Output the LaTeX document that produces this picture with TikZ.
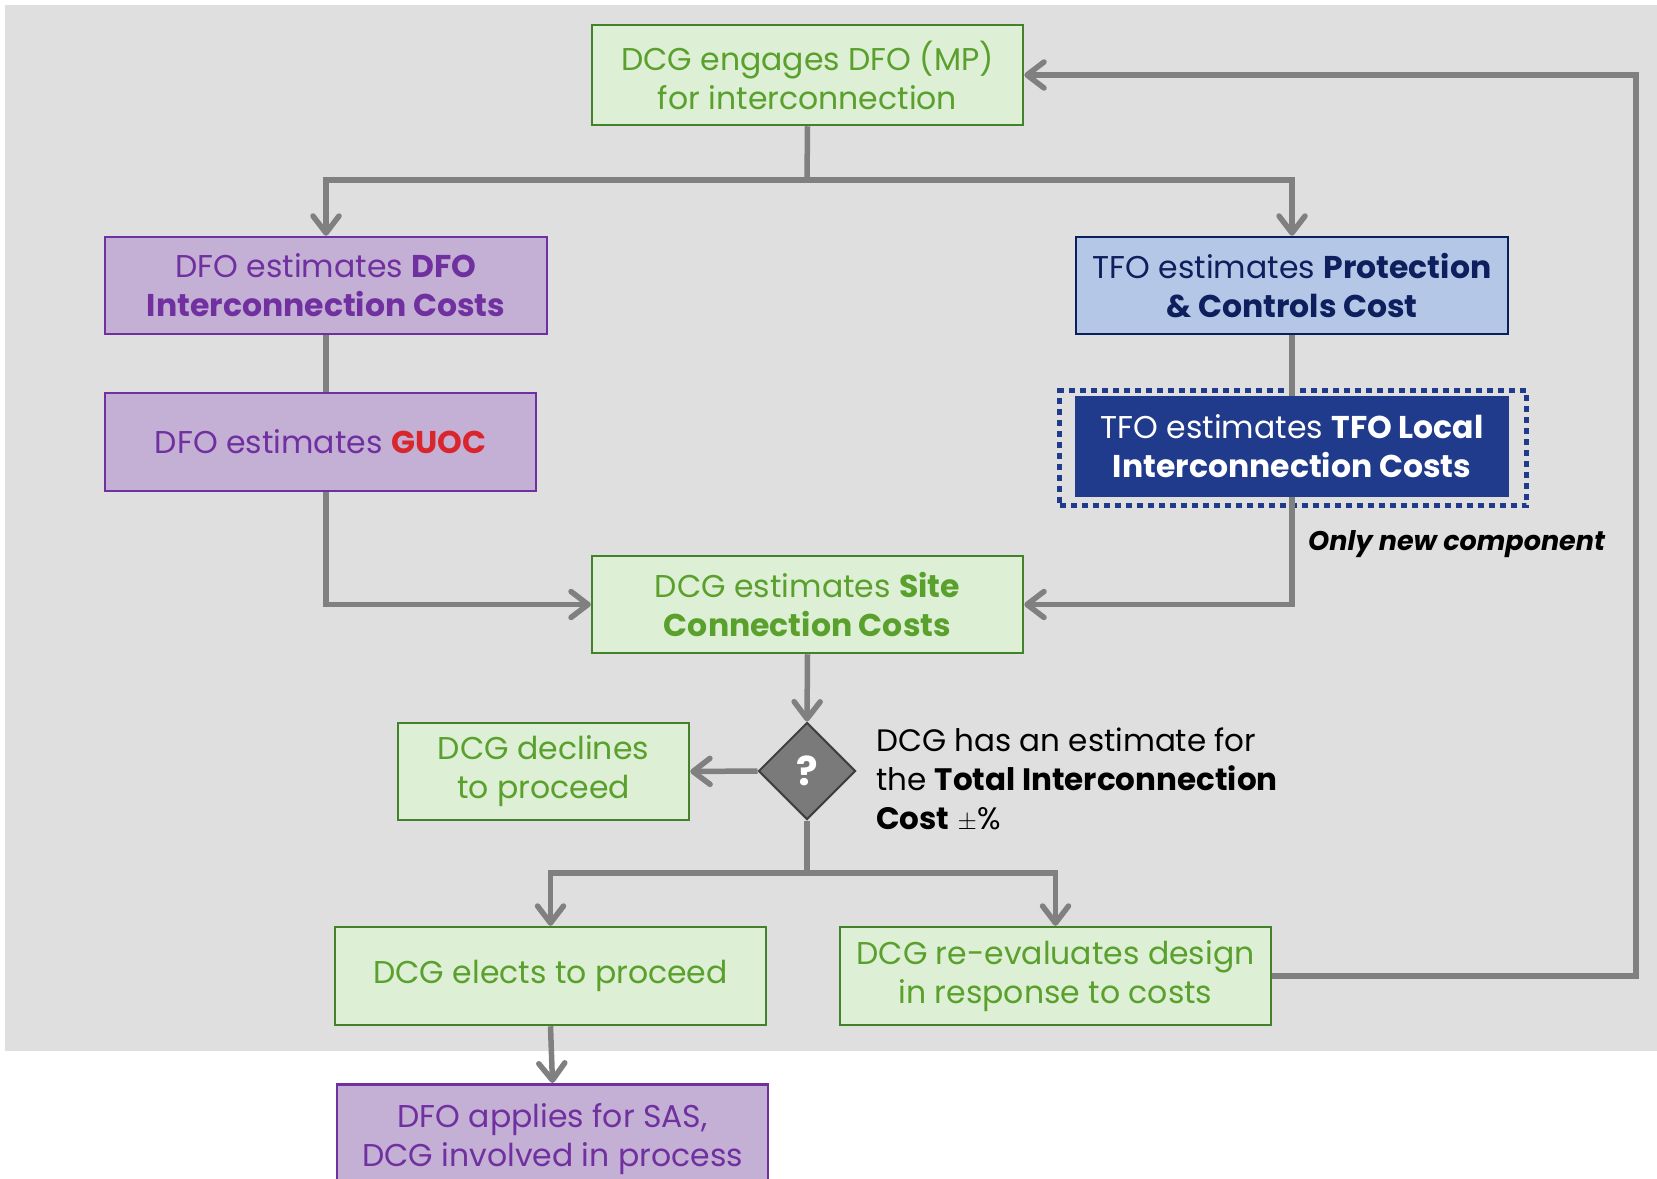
\documentclass[tikz,border=0pt]{standalone}
\usepackage{fontspec}
\setmainfont{Poppins}
\usetikzlibrary{arrows.meta,shapes.geometric}
\definecolor{bgc}{HTML}{DFDFDF}
\definecolor{gfill}{HTML}{DDEFD4}
\definecolor{gline}{HTML}{43822A}
\definecolor{gtext}{HTML}{5AA02C}
\definecolor{pfill}{HTML}{C5B0D5}
\definecolor{pline}{HTML}{7030A0}
\definecolor{bfill}{HTML}{B4C7E7}
\definecolor{bline}{HTML}{0A1F5E}
\definecolor{btext}{HTML}{0D1F5C}
\definecolor{dblue}{HTML}{203B8C}
\definecolor{redc}{HTML}{D9262C}
\definecolor{arr}{HTML}{808080}
\definecolor{dia}{HTML}{7A7A7A}
\tikzset{
  box/.style={draw, line width=2.5pt, align=center, inner sep=0pt,
    font=\fontsize{31.5}{39}\selectfont},
  gbox/.style={box, fill=gfill, draw=gline, text=gtext},
  pbox/.style={box, fill=pfill, draw=pline, text=pline},
  bbox/.style={box, fill=bfill, draw=bline, text=btext},
  dbox/.style={box, fill=dblue, draw=dblue, text=white},
  conn/.style={draw=arr, line width=5.5pt,
    -{Straight Barb[length=17pt,width=26pt,line width=5.5pt,round]}},
  plain/.style={draw=arr, line width=5.5pt},
}
\begin{document}
\begin{tikzpicture}[x=1pt,y=-1pt]
\useasboundingbox (0,0) rectangle (1657,1178);
\begin{scope}
\clip (0,0) rectangle (1657,1178);
\fill[bgc] (5,5) rectangle (1657,1051);

\node[gbox, minimum width=431, minimum height=100] (n1) at (807.5,75)
  {DCG engages DFO (MP)\\for interconnection};
\node[pbox, minimum width=442, minimum height=97] (dfoic) at (326,285.5)
  {DFO estimates \textbf{DFO}\\\textbf{Interconnection Costs}};
\node[bbox, minimum width=432, minimum height=97] (pc) at (1292,285.5)
  {TFO estimates \textbf{Protection}\\\textbf{\& Controls Cost}};
\node[pbox, minimum width=431, minimum height=98] (guoc) at (320.5,442)
  {DFO estimates \textcolor{redc}{\textbf{GUOC}}};
\node[draw=dblue, line width=5.5pt, dash pattern=on 6pt off 5pt,
  minimum width=467, minimum height=115, inner sep=0pt] (dot) at (1293,448) {};
\node[dbox, minimum width=432, minimum height=99] (tfol) at (1292,446.5)
  {TFO estimates \textbf{TFO Local}\\\textbf{Interconnection Costs}};
\node[font=\fontsize{27}{30}\selectfont\bfseries\itshape, anchor=west, inner sep=0pt] (onc) at (1308,544)
  {Only new component};
\node[gbox, minimum width=431, minimum height=97] (site) at (807.5,604.5)
  {DCG estimates \textbf{Site}\\\textbf{Connection Costs}};
\node[diamond, fill=dia, draw=black!75, line width=2pt, minimum width=97, minimum height=97,
  inner sep=0pt, text=white, font=\fontsize{40}{44}\selectfont\bfseries] (q) at (807,771) {?};
\node[gbox, minimum width=291, minimum height=97] (decl) at (543.5,771.5)
  {DCG declines\\to proceed};
\node[anchor=north west, align=left, inner sep=0pt, font=\fontsize{31}{39}\selectfont] (txt) at (876,728)
  {DCG has an estimate for\\the \textbf{Total Interconnection}\\\textbf{Cost} $\pm$\%};
\node[gbox, minimum width=431, minimum height=98] (elect) at (550.5,976)
  {DCG elects to proceed};
\node[gbox, minimum width=431, minimum height=98] (reeval) at (1055.5,976)
  {DCG re-evaluates design\\in response to costs};
\node[pbox, minimum width=431, minimum height=110, anchor=north] (app) at (552.5,1083)
  {DFO applies for SAS,\\DCG involved in process};

\coordinate (br1) at (807,180);
\coordinate (br2) at (807,873);
\coordinate (lp) at (1636,0);

\draw[plain] (n1.south) -- (br1);
\draw[conn] (br1) -| (dfoic.north);
\draw[conn] (br1) -| (pc.north);
\draw[plain] (dfoic.south) -- (dfoic.south |- guoc.north);
\draw[conn] (dfoic.south |- guoc.south) |- (site.west);
\draw[plain] (pc.south) -- (tfol.north);
\draw[conn] (tfol.south) |- (site.east);
\draw[conn] (site.south) -- (q.north);
\draw[conn] (q.west) -- (decl.east);
\draw[plain] (q.south) -- (br2);
\draw[conn] (br2) -| (elect.north);
\draw[conn] (br2) -| (reeval.north);
\draw[conn] (elect.south) -- (app.north);
\draw[conn] (reeval.east) -- (reeval.east -| lp) -- (n1.east -| lp) -- (n1.east);
\end{scope}
\end{tikzpicture}
\end{document}
